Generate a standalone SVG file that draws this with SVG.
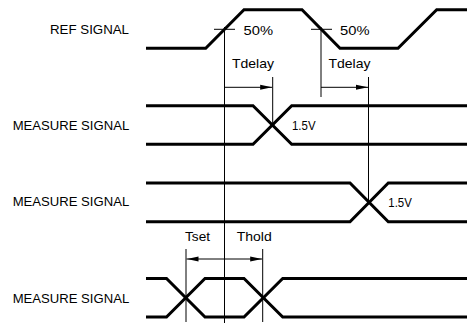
<svg xmlns="http://www.w3.org/2000/svg" width="467" height="323" viewBox="0 0 467 323">
<defs>
<style>
.lbl{font-family:"Liberation Sans",Arial,sans-serif;font-size:13px;fill:#000}
.sig{fill:none;stroke:#000;stroke-width:3;stroke-linejoin:miter}
.thin{fill:none;stroke:#000;stroke-width:1}
</style>
<marker id="ah" viewBox="0 0 12 6" refX="12" refY="3" markerWidth="12" markerHeight="6" markerUnits="userSpaceOnUse" orient="auto-start-reverse">
<path d="M0,0.5 L12,3 L0,5.5 Z" fill="#000"/>
</marker>
</defs>
<rect width="467" height="323" fill="#fff"/>
<g id="ref">
<text class="lbl" x="50" y="34" textLength="79" lengthAdjust="spacingAndGlyphs">REF SIGNAL</text>
<path class="sig" d="M146,48.3 H205.7 L244,9.7 H302 L340,48.3 H398 L436.7,9.7 H467"/>
</g>
<g id="m1">
<text class="lbl" x="12.7" y="130" textLength="116.5" lengthAdjust="spacingAndGlyphs">MEASURE SIGNAL</text>
<path class="sig" d="M146,105.7 H253 L291.7,144.3 H467"/>
<path class="sig" d="M146,144.3 H253 L291.7,105.7 H467"/>
<text class="lbl" x="292" y="130" textLength="23.5" lengthAdjust="spacingAndGlyphs">1.5V</text>
</g>
<g id="m2">
<text class="lbl" x="12.7" y="206" textLength="116.5" lengthAdjust="spacingAndGlyphs">MEASURE SIGNAL</text>
<path class="sig" d="M146,183 H350 L388.3,221.7 H467"/>
<path class="sig" d="M146,221.7 H350 L388.3,183 H467"/>
<text class="lbl" x="388.3" y="206.5" textLength="23.5" lengthAdjust="spacingAndGlyphs">1.5V</text>
</g>
<g id="m3">
<text class="lbl" x="12.7" y="303" textLength="116.5" lengthAdjust="spacingAndGlyphs">MEASURE SIGNAL</text>
<path class="sig" d="M146,278.5 H166.5 L205,317 H244 L282.7,278.5 H467"/>
<path class="sig" d="M146,317 H166.5 L205,278.5 H244 L282.7,317 H467"/>
</g>
<g id="connectors">
<path class="thin" d="M214,29.3 H235"/>
<path class="thin" d="M311,29.3 H332"/>
<path class="thin" d="M224.5,27 V323"/>
<path class="thin" d="M321,27 V97"/>
<path class="thin" d="M272.7,77 V125"/>
<path class="thin" d="M368.5,77 V201"/>
<path class="thin" d="M224.5,87.3 H272.2" marker-end="url(#ah)"/>
<path class="thin" d="M321,87.3 H368" marker-end="url(#ah)"/>
<path class="thin" d="M186,249 V322"/>
<path class="thin" d="M262.7,249 V322"/>
<path class="thin" d="M186.5,259 H262.2" marker-start="url(#ah)" marker-end="url(#ah)"/>
</g>
<g id="labels">
<text class="lbl" x="243.5" y="35" textLength="29.5" lengthAdjust="spacingAndGlyphs">50%</text>
<text class="lbl" x="340" y="35" textLength="29.5" lengthAdjust="spacingAndGlyphs">50%</text>
<text class="lbl" x="232" y="68.3" textLength="42" lengthAdjust="spacingAndGlyphs">Tdelay</text>
<text class="lbl" x="328.5" y="68.3" textLength="42" lengthAdjust="spacingAndGlyphs">Tdelay</text>
<text class="lbl" x="185" y="241" textLength="25" lengthAdjust="spacingAndGlyphs">Tset</text>
<text class="lbl" x="236.7" y="241" textLength="35" lengthAdjust="spacingAndGlyphs">Thold</text>
</g>
</svg>
